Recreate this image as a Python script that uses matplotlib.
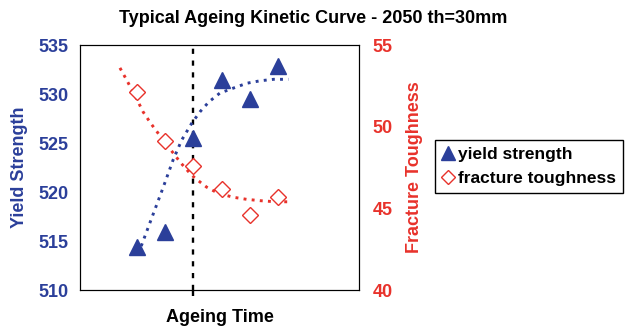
import numpy as np
import matplotlib
matplotlib.use('Agg')
import matplotlib.pyplot as plt
from matplotlib.lines import Line2D

plt.rcParams['font.family'] = ['Liberation Sans', 'DejaVu Sans']
plt.rcParams['font.weight'] = 'bold'

blue = '#2B3F9A'
red = '#E8322B'

# measured points
x_pts = [1, 2, 3, 4, 5, 6]
yield_strength = [514.4, 515.9, 525.5, 531.4, 529.5, 532.9]
toughness = [52.1, 49.1, 47.6, 46.2, 44.6, 45.7]

# trend curves
ys_fit_x = [1.06, 1.59, 1.94, 2.29, 2.59, 2.94, 3.24, 3.55, 3.94, 4.41, 4.89, 5.36, 5.83, 6.36]
ys_fit_y = [513.7, 517.8, 520.5, 523.3, 525.3, 527.0, 528.2, 529.2, 530.1, 530.6, 531.1, 531.35, 531.5, 531.5]
kt_fit_x = [0.41, 0.65, 1.0, 1.23, 1.5, 1.8, 2.24, 2.55, 2.88, 3.06, 3.47, 3.88, 4.41, 4.89, 5.36, 5.83, 6.36]
kt_fit_y = [53.6, 52.85, 51.7, 50.9, 50.2, 49.5, 48.5, 47.8, 47.15, 46.85, 46.3, 45.92, 45.68, 45.55, 45.47, 45.41, 45.4]

ageing_peak = 3

fig = plt.figure(figsize=(6.27, 3.26), dpi=100)
ax = fig.add_axes([0.1276, 0.1104, 0.445, 0.7515])
ax2 = ax.twinx()

ax.plot(ys_fit_x, ys_fit_y, color=blue, lw=2.1, linestyle=(0, (1, 1.8)))
ax.plot(x_pts, yield_strength, linestyle='none', marker='^', ms=11, color=blue)
ax2.plot(kt_fit_x, kt_fit_y, color=red, lw=2.1, linestyle=(0, (1, 1.8)))
ax2.plot(x_pts, toughness, linestyle='none', marker='D', ms=8, mfc='white', mec=red, mew=1)

ax.axvline(ageing_peak, color='black', lw=1.7, linestyle=(0, (2.2, 2.8)), zorder=0)

ax.set_xlim(-1, 8.85)
ax.set_ylim(510, 535)
ax2.set_ylim(40, 55)
ax.set_yticks(np.arange(510, 536, 5))
ax2.set_yticks(np.arange(40, 56, 5))
ax.set_xticks([ageing_peak])
ax.set_xticklabels([''])
ax.tick_params(axis='x', direction='out', length=4, width=1.7)
ax.tick_params(axis='y', length=0, labelsize=13, labelcolor=blue, pad=8)
ax2.tick_params(axis='y', length=0, labelsize=13, labelcolor=red, pad=10)
for lab in ax.get_yticklabels() + ax2.get_yticklabels():
    lab.set_fontweight('bold')

ax.set_xlabel('Ageing Time', fontsize=13, fontweight='bold', labelpad=6)
ax.set_ylabel('Yield Strength', fontsize=13, fontweight='bold', color=blue, labelpad=8)
ax2.set_ylabel('Fracture Toughness', fontsize=13, fontweight='bold', color=red, labelpad=9)

fig.suptitle('Typical Ageing Kinetic Curve - 2050 th=30mm', fontsize=13, fontweight='bold', y=0.97)

handles = [
    Line2D([], [], linestyle='none', marker='^', ms=10, color=blue),
    Line2D([], [], linestyle='none', marker='D', ms=7.5, mfc='white', mec=red, mew=1),
]
leg = fig.legend(handles, ['yield strength', 'fracture toughness'], loc='upper left',
                 bbox_to_anchor=(435 / 627, 1 - 140 / 326), fancybox=False,
                 edgecolor='black', framealpha=1, fontsize=12.5, handlelength=0.7,
                 handletextpad=0.2, borderpad=0.4, borderaxespad=0,
                 labelspacing=0.5)
leg.get_frame().set_linewidth(1)
leg._legend_box.sep = 2
for t in leg.get_texts():
    t.set_fontweight('bold')

fig.savefig('out.png', dpi=100)
